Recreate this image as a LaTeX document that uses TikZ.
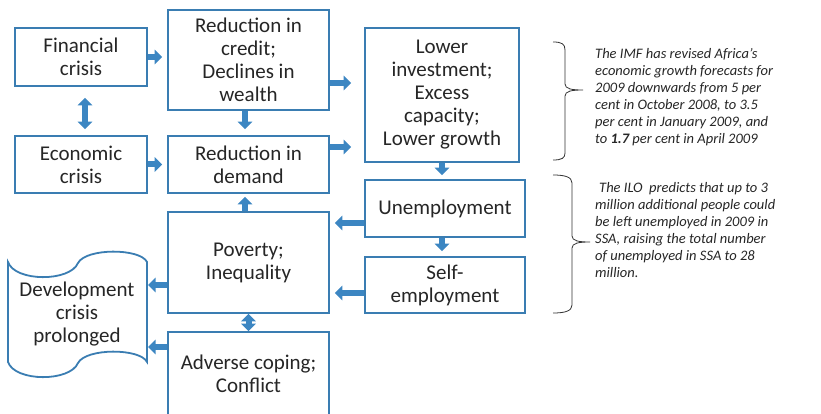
\documentclass[tikz,border=0pt]{standalone}
\usepackage{fontspec}
\setmainfont{Carlito}
\usetikzlibrary{arrows.meta,calc}
\definecolor{boxblue}{RGB}{58,125,178}
\definecolor{arrblue}{RGB}{60,134,194}
\definecolor{txt}{RGB}{38,38,38}
\tikzset{
 box/.style={draw=boxblue, line width=1.8pt, fill=white, align=center, inner sep=0pt, text=txt, font=\fontsize{21}{23}\selectfont},
 barrow/.style={draw=arrblue, line width=6pt, -{Triangle[length=7.5pt,width=14.5pt]}},
 dbarrow/.style={draw=arrblue, line width=6pt, {Triangle[length=7.5pt,width=14.5pt]}-{Triangle[length=7.5pt,width=14.5pt]}},
 note/.style={anchor=north west, align=left, inner sep=0pt, text=txt, font=\itshape\fontsize{14.5}{17}\selectfont},
 bracel/.style={draw=black!80, line width=0.8pt},
}
\begin{document}
\begin{tikzpicture}[x=1pt,y=-1pt]
\useasboundingbox (0,0) rectangle (821,414);
\clip (0,0) rectangle (821,414);
% boxes
\node[box, minimum width=132pt, minimum height=58pt] (fin) at (81,57) {Financial\\crisis};
\node[box, minimum width=132pt, minimum height=57pt] (econ) at (81,164.5) {Economic\\crisis};
\node[box, minimum width=161pt, minimum height=100pt] (credit) at (248.5,60) {Reduction in\\credit;\\Declines in\\wealth};
\node[box, minimum width=161pt, minimum height=57pt] (demand) at (248.5,164.5) {Reduction in\\demand};
\node[box, minimum width=154pt, minimum height=134pt] (lowinv) at (442,95) {Lower\\investment;\\Excess\\capacity;\\Lower growth};
\node[box, minimum width=160pt, minimum height=57pt] (unemp) at (445,208.5) {Unemployment};
\node[box, minimum width=160pt, minimum height=56pt] (self) at (445,285) {Self-\\employment};
\node[box, minimum width=161pt, minimum height=101pt] (pov) at (248.5,262.5) {Poverty;\\Inequality};
\node[box, minimum width=161pt, minimum height=84pt] (adv) at (248.5,374) {Adverse coping;\\Conflict};
% scroll shape
\draw[draw=boxblue, line width=1.8pt, fill=white]
  (8,262) .. controls (15,282) and (70,282) .. (78,263)
  .. controls (86,248) and (140,248) .. (147,262) -- (147,362)
  .. controls (140,348) and (86,348) .. (78,363)
  .. controls (70,382) and (15,382) .. (8,362) -- cycle;
\node[align=center, inner sep=0pt, text=txt, font=\fontsize{21}{23}\selectfont] (dev) at (77,314) {Development\\crisis\\prolonged};
\coordinate (devR) at (147,314);
% arrow start points
\coordinate (c1) at ($(credit.east)+(0,23)$);
\coordinate (d1) at ($(demand.east)+(0,-17.5)$);
\coordinate (c2) at ($(credit.south)+(-3.5,0)$);
\coordinate (p1) at ($(pov.north)+(-3.5,0)$);
\coordinate (f1) at ($(fin.south)+(4,0)$);
\coordinate (u1) at ($(unemp.south)+(-3,0)$);
\coordinate (u2) at ($(unemp.west)+(0,14.5)$);
\coordinate (s1) at ($(self.west)+(0,8)$);
\coordinate (p2) at ($(pov.west)+(0,22.5)$);
\coordinate (a1) at ($(adv.west)+(0,-27)$);
% arrows
\draw[barrow, shorten >=5pt] (fin.east) -- (fin.east -| credit.west);
\draw[barrow, shorten >=5pt] (econ.east) -- (econ.east -| demand.west);
\draw[barrow, shorten >=13pt] (c1) -- (c1 -| lowinv.west);
\draw[barrow, shorten >=13pt] (d1) -- (d1 -| lowinv.west);
\draw[barrow, shorten >=6pt] (c2) -- (c2 |- demand.north);
\draw[barrow, shorten >=3pt] (p1) -- (p1 |- demand.south);
\draw[dbarrow, shorten <=11pt, shorten >=6pt] (f1) -- (f1 |- econ.north);
\draw[barrow, shorten >=4pt] (lowinv.south) -- (lowinv.south |- unemp.north);
\draw[barrow, shorten >=5pt] (u1) -- (u1 |- self.north);
\draw[barrow, shorten >=5pt] (u2) -- (u2 -| pov.east);
\draw[barrow, shorten >=5pt] (s1) -- (s1 -| pov.east);
\draw[barrow, shorten >=1pt] (p2) -- (p2 -| devR);
\draw[barrow, shorten >=1pt] (a1) -- (a1 -| devR);
\draw[dbarrow] (pov.south) -- (adv.north);
% braces
\draw[bracel] (553,42) .. controls (562,42) and (565,44) .. (565,50) -- (565,84)
  .. controls (565,89) and (572,90) .. (583,90)
  .. controls (572,90) and (565,91) .. (565,96) -- (565,153)
  .. controls (565,158) and (562,160) .. (553,160);
\draw[bracel] (553,175) .. controls (565,175) and (572,177) .. (572,183) -- (572,236)
  .. controls (572,241) and (579,242) .. (590,242)
  .. controls (579,242) and (572,243) .. (572,248) -- (572,305)
  .. controls (572,311) and (565,313) .. (553,313);
% notes
\node[note] (imf) at (595,48) {The IMF has revised Africa’s\\economic growth forecasts for\\2009 downwards from 5 per\\cent in October 2008, to 3.5\\per cent in January 2009, and\\to \textbf{1.7} per cent in April 2009};
\node[note] (ilo) at (595,182) {\hspace{4pt}The ILO\ \ predicts that up to 3\\million additional people could\\be left unemployed in 2009 in\\SSA, raising the total number\\of unemployed in SSA to 28\\million.};
\end{tikzpicture}
\end{document}
